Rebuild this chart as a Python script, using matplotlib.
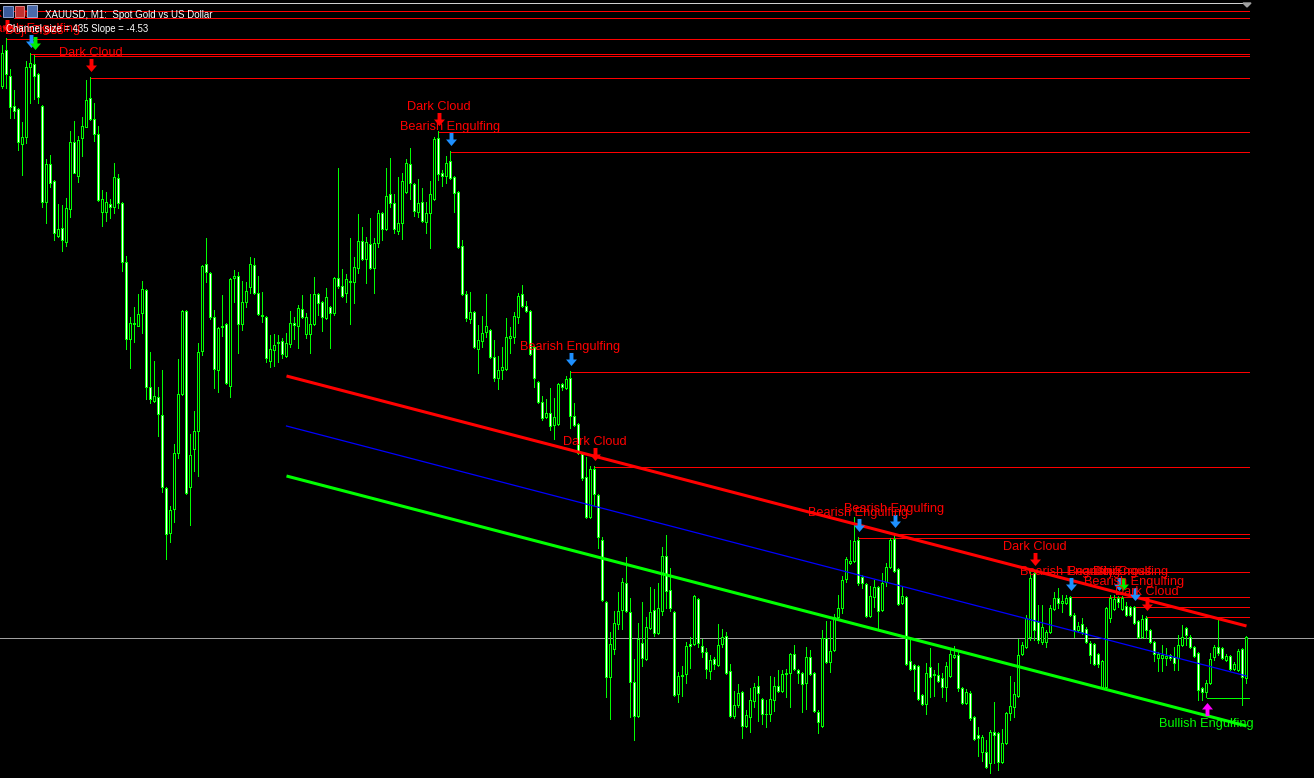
import matplotlib
matplotlib.use("Agg")
import matplotlib.pyplot as plt
from matplotlib.path import Path
import numpy as np

O = [86,50,76,106,109,144,137,67,64,74,
     106,202,164,181,236,228,242,209,142,176,
     138,127,98,119,134,212,212,204,207,178,
     203,262,339,323,326,313,290,387,401,397,
     415,488,533,509,453,394,311,487,449,431,
     351,264,273,317,370,326,324,386,278,276,
     324,302,287,265,293,315,317,361,350,342,
     341,356,344,323,326,309,334,334,324,294,
     302,318,307,313,278,286,293,281,282,268,
     241,259,244,268,243,213,229,194,203,231,
     223,192,164,184,212,202,222,213,199,138,
     173,176,161,177,192,246,294,319,312,349,
     341,332,330,357,378,370,369,338,337,317,
     294,306,311,347,382,402,417,413,425,424,
     384,388,378,416,424,454,477,517,469,495,
     540,602,677,649,624,610,583,612,682,716,
     643,659,628,610,633,611,556,590,612,694,
     675,674,644,644,599,646,652,671,659,665,
     644,636,671,716,705,692,726,717,701,686,
     699,714,714,700,686,691,674,673,654,670,
     673,683,657,673,712,726,638,662,650,617,
     608,579,563,561,540,577,584,616,597,587,
     610,582,567,539,569,603,597,661,665,666,
     695,704,667,674,675,678,687,676,657,655,
     688,703,693,717,735,752,752,763,732,733,
     762,743,713,707,696,654,647,637,573,622,
     642,642,632,609,598,603,603,597,615,630,
     624,629,643,644,654,687,687,618,609,598,
     609,606,607,607,621,637,618,630,642,658,
     658,658,655,657,658,645,628,637,647,653,
     688,692,683,657,647,648,660,656,669,670,
     649,678]
H = [45,38,69,90,108,122,61,53,55,73,
     105,159,155,180,204,205,198,131,121,136,
     117,80,77,103,126,190,192,199,163,174,
     202,256,317,307,294,281,289,352,361,387,
     370,487,506,444,359,310,310,434,411,343,
     265,238,272,310,327,295,323,278,270,272,
     281,282,257,258,276,292,316,335,334,335,
     338,333,311,317,305,295,313,294,277,293,
     301,288,306,277,168,269,274,238,257,214,
     227,237,218,238,210,212,168,158,194,177,
     173,159,148,183,179,188,202,181,137,131,
     170,156,151,176,191,240,291,292,311,325,
     316,294,329,340,356,347,318,327,312,293,
     285,301,310,346,381,396,399,388,398,383,
     383,376,371,403,423,452,457,466,466,494,
     537,601,632,611,592,578,557,598,659,623,
     602,617,587,589,583,547,535,568,611,672,
     666,642,637,595,598,639,648,655,657,624,
     629,632,664,691,684,691,710,688,683,676,
     698,700,676,677,670,670,669,653,645,669,
     672,647,650,672,710,630,621,621,614,595,
     576,557,540,517,537,575,583,586,580,586,
     573,563,538,533,568,587,596,640,664,665,
     694,663,648,670,663,673,662,649,646,652,
     687,689,691,716,727,735,740,730,702,732,
     729,712,676,682,639,642,615,572,571,605,
     605,630,605,592,588,595,595,596,613,622,
     618,627,641,643,653,660,607,595,595,596,
     596,602,606,606,620,615,616,629,641,652,
     645,648,654,647,635,625,627,635,646,652,
     687,680,653,645,619,647,654,655,662,649,
     648,636]
L = [88,88,118,118,150,175,143,103,99,103,
     207,223,187,240,237,251,246,217,173,182,
     156,127,120,141,201,226,221,218,213,208,
     271,349,368,342,326,333,399,403,402,436,
     492,559,542,522,458,395,494,525,471,476,
     355,282,319,388,392,336,384,397,302,353,
     330,307,293,294,315,322,362,367,366,362,
     358,357,347,339,348,318,338,353,325,315,
     331,319,348,315,288,297,302,324,303,273,
     260,283,269,293,247,240,230,207,233,234,
     239,193,199,216,217,222,233,248,200,180,
     186,183,179,212,248,295,321,323,348,373,
     347,337,358,381,389,379,370,353,343,323,
     307,312,355,387,403,420,418,430,439,425,
     390,389,428,426,454,480,518,518,505,548,
     601,697,719,654,629,629,612,717,740,717,
     666,660,629,636,634,615,608,611,696,702,
     696,683,668,645,647,657,678,679,669,666,
     647,674,717,718,707,738,727,732,707,721,
     724,727,721,711,692,692,697,707,670,683,
     712,709,675,712,733,727,663,672,651,620,
     613,582,564,562,585,588,617,617,607,629,
     611,586,568,572,605,604,665,670,691,700,
     705,714,697,696,682,697,701,677,658,691,
     704,704,720,740,756,761,768,773,763,770,
     763,744,720,717,697,655,648,640,640,643,
     644,647,633,610,608,612,604,616,637,632,
     634,643,663,665,667,688,688,622,610,607,
     610,616,616,624,638,638,638,643,661,671,
     671,665,660,670,670,646,645,648,657,700,
     700,697,684,660,655,659,661,670,670,671,
     705,683]
C = [53,74,107,111,142,137,67,63,76,97,
     202,164,183,233,229,240,208,142,173,140,
     126,100,119,134,200,199,202,207,177,203,
     262,339,323,324,314,289,387,399,396,414,
     487,534,510,453,394,311,493,455,431,352,
     266,272,317,369,328,327,383,279,276,324,
     302,291,264,293,314,316,358,349,345,343,
     354,343,323,325,308,317,317,324,294,303,
     317,297,313,278,286,296,279,282,267,241,
     259,242,268,243,213,229,196,203,229,223,
     181,163,183,211,203,221,213,194,139,174,
     176,163,178,193,247,294,318,312,347,340,
     333,326,357,378,370,367,337,336,316,296,
     306,311,354,378,402,418,413,426,417,384,
     387,379,416,425,453,478,517,469,494,537,
     600,677,644,623,611,582,611,682,716,639,
     658,627,612,633,608,556,591,608,695,676,
     676,646,646,596,643,652,669,660,664,645,
     637,673,716,705,693,726,715,700,687,693,
     714,714,699,686,691,674,673,654,669,673,
     684,657,674,711,722,638,662,651,617,608,
     580,559,561,541,583,583,616,596,587,611,
     583,567,540,571,604,596,664,669,669,699,
     704,673,677,675,681,687,666,654,655,688,
     703,692,718,739,738,737,767,732,735,762,
     743,713,706,694,655,645,618,578,630,640,
     627,632,608,598,603,601,598,615,630,626,
     632,642,655,664,664,661,608,598,599,602,
     598,615,615,623,637,619,630,642,654,654,
     655,656,658,663,645,637,635,647,656,690,
     692,683,659,647,653,658,656,669,664,651,
     677,637]

# pattern signals: (candle index, pattern name, arrow type)
sig_index = [1, 7, 8, 22, 109, 112, 142, 148, 214, 223, 258, 267, 279, 280, 283, 286, 301]
sig_name = ["Dark Cloud", "Bearish Engulfing", "Doji Cross", "Dark Cloud", "Dark Cloud",
            "Bearish Engulfing", "Bearish Engulfing", "Dark Cloud", "Bearish Engulfing",
            "Bearish Engulfing", "Dark Cloud", "Bearish Engulfing", "Bearish Engulfing",
            "Doji Cross", "Bearish Engulfing", "Dark Cloud", "Bullish Engulfing"]
sig_kind = ["dc", "be", "cross", "dc", "dc", "be", "be", "dc", "be", "be", "dc", "be", "be",
            "cross", "be", "dc", "bull"]

# older resistance levels whose candles scrolled off the left edge
old_levels = [10, 17]

# regression channel (start candle, end candle) and its three lines
chan_idx = [71, 311]
chan_upper = [376, 626]
chan_mid = [426, 676]
chan_lower = [476, 726]

bid_price = 637
title = "XAUUSD, M1:  Spot Gold vs US Dollar"
info = "Channel size = 435 Slope = -4.53"

# ---------------- drawing -------------
W, Hh = 1314, 778
fig = plt.figure(figsize=(W / 100, Hh / 100), dpi=100)
fig.patch.set_facecolor("black")
ax = fig.add_axes([0, 0, 1, 1])
ax.set_facecolor("black")
ax.set_xlim(0, W)
ax.set_ylim(Hh, 0)
ax.axis("off")

n = len(C)
x = 2.5 + 4 * np.arange(n)
O_, H_, L_, C_ = map(np.asarray, (O, H, L, C))
right_edge = x[-1] + 2.5
PX = 0.72  # one pixel in points

GREEN = "#00ff00"
RED = "#ff0000"

# frame line on top and bid line
ax.plot([0, right_edge], [2.5, 2.5], color="#d0d0d0", lw=PX, zorder=1)
ax.plot([0, W], [bid_price + 0.5, bid_price + 0.5], color="#a0a0a0", lw=PX, zorder=1)
ax.fill([right_edge - 6, right_edge + 2, right_edge - 2], [3, 3, 7], color="#a0a0a0", zorder=1)

# level lines
for lv in old_levels:
    ax.plot([14, right_edge], [lv + 0.5, lv + 0.5], color=RED, lw=PX, zorder=1)
for i, k in zip(sig_index, sig_kind):
    if k == "bull":
        lv, col = L_[i], GREEN
    else:
        lv, col = H_[i], RED
    ax.plot([x[i], right_edge], [lv + 0.5, lv + 0.5], color=col, lw=PX, zorder=1)

# channel
cx = [x[chan_idx[0]], x[chan_idx[1]]]
ax.plot(cx, chan_upper, color=RED, lw=2.2, solid_capstyle="butt", zorder=4)
ax.plot(cx, chan_mid, color="#0000ff", lw=0.9, zorder=4)
ax.plot(cx, chan_lower, color=GREEN, lw=2.2, solid_capstyle="butt", zorder=4)

# candles: wick, green outer body, white (bear) / black (bull) inner body
top = np.minimum(np.minimum(O_, C_), H_)
bot = np.maximum(np.maximum(O_, C_), L_)
ax.bar(x, bot - top + 1, bottom=top, width=1, color=GREEN, linewidth=0, zorder=2)
btop = np.minimum(O_, C_)
bbot = np.maximum(O_, C_)
ax.bar(x, bbot - btop + 1, bottom=btop, width=3, color=GREEN, linewidth=0, zorder=3)
inner_h = bbot - btop - 1
has_inner = inner_h >= 1
fills = np.where(C_ > O_, "#ffffff", "#000000")
ax.bar(x[has_inner], inner_h[has_inner], bottom=btop[has_inner] + 1, width=1,
       color=fills[has_inner], linewidth=0, zorder=3.5)

# arrows
down = Path([(-0.15, 0.5), (0.15, 0.5), (0.15, 0.0), (0.42, 0.0), (0.0, -0.5),
             (-0.42, 0.0), (-0.15, 0.0), (-0.15, 0.5)],
            [Path.MOVETO] + [Path.LINETO] * 6 + [Path.CLOSEPOLY])
up = Path([(vx, -vy) for vx, vy in down.vertices], down.codes)
arrow_col = {"dc": RED, "be": "#1e90ff", "cross": "#00ee00", "bull": "#ff00ff"}
lab = dict(family="Liberation Sans", fontsize=9.2, ha="center", va="baseline", zorder=6)
for i, name, k in zip(sig_index, sig_name, sig_kind):
    if k == "bull":
        ax.plot(x[i], L_[i] + 11.5, marker=up, ms=9.4, color=arrow_col[k], mec="none", zorder=5)
        ax.text(x[i], L_[i] + 30, name, color=GREEN, **lab)
    else:
        ax.plot(x[i], H_[i] - 12.5, marker=down, ms=9.4, color=arrow_col[k], mec="none", zorder=5)
        ax.text(x[i], H_[i] - 21, name, color=RED, **lab)

# header: icon, title, channel info
ax.add_patch(plt.Rectangle((3, 6), 10, 11, fc="#3a5a9a", ec="#8aa0d0", lw=0.7, zorder=7))
ax.add_patch(plt.Rectangle((15, 6), 9, 11, fc="#c03030", ec="#e08080", lw=0.7, zorder=7))
ax.add_patch(plt.Rectangle((27, 5), 10, 12, fc="#4a6aaa", ec="#a0b0d0", lw=0.7, zorder=7))
ax.text(45, 18, title, color="white", family="Liberation Sans", fontsize=7.0, va="baseline", zorder=7)
ax.text(6, 32, info, color="white", family="Liberation Sans", fontsize=6.9, va="baseline", zorder=7)

fig.savefig("out.png", dpi=100, facecolor="black")
